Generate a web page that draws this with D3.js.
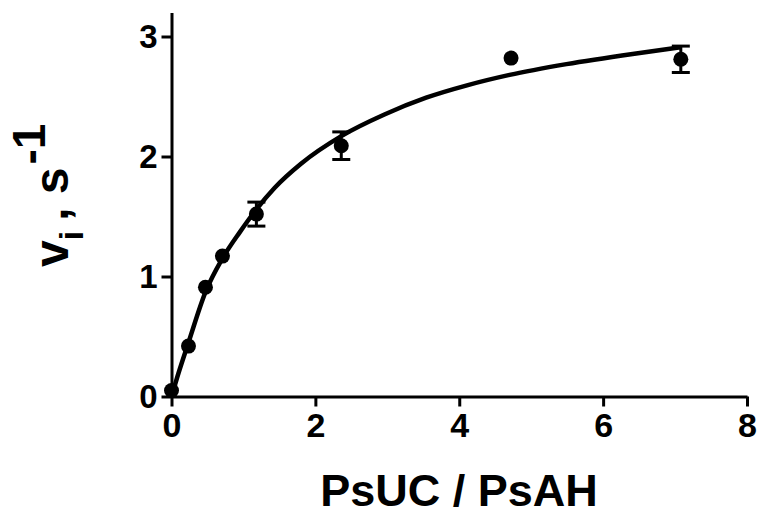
<!DOCTYPE html>
<meta charset="utf-8">
<style>
    body { margin: 0; background: #fff; }
    text { font-family: "Liberation Sans", Arial, sans-serif; font-weight: bold; }
</style>

<svg width="760" height="516"></svg>

<script src="https://cdnjs.cloudflare.com/ajax/libs/d3/7.8.5/d3.min.js"></script>
<script>

    // measured points (mean, sem)
    var ratio = [0, 0.236, 0.472, 0.708, 1.18, 2.36, 4.72, 7.08]
    var rate = [0.05, 0.42, 0.91, 1.17, 1.52, 2.09, 2.82, 2.81]
    var sem = [0, 0, 0, 0, 0.10, 0.115, 0, 0.11]

    // fitted curve
    var fitX = [0, 0.1, 0.236, 0.472, 0.708, 0.95, 1.18, 1.435, 1.8, 2.36, 2.96, 3.54, 4.12, 4.7, 5.49, 6.41, 7.08]
    var fitY = [0, 0.2, 0.45, 0.87, 1.15, 1.37, 1.56, 1.74, 1.94, 2.17, 2.35, 2.49, 2.595, 2.68, 2.77, 2.855, 2.91]

    var xTicks = [0, 2, 4, 6, 8]
    var yTicks = [0, 1, 2, 3]

    var svg = d3.select('svg')

    var x = d3.scaleLinear().domain([0, 8]).range([171.5, 747])
    var y = d3.scaleLinear().domain([0, 3.2]).range([396.5, 12.5])

    var points = ratio.map(function (d, i) {
        return { x: d, y: rate[i], e: sem[i] }
    })
    var fit = fitX.map(function (d, i) { return [d, fitY[i]] })

    // axes
    var xAxis = svg.append('g')
        .attr('transform', 'translate(0,' + y(0) + ')')
        .call(d3.axisBottom(x).tickValues(xTicks).tickFormat(d3.format('d'))
            .tickSize(10).tickSizeOuter(0).tickPadding(6))
    var yAxis = svg.append('g')
        .attr('transform', 'translate(' + x(0) + ',0)')
        .call(d3.axisLeft(y).tickValues(yTicks).tickFormat(d3.format('d'))
            .tickSize(10).tickSizeOuter(0).tickPadding(4))

    svg.selectAll('.domain').attr('stroke', '#000').attr('stroke-width', 3)
    svg.selectAll('.tick line').attr('stroke', '#000').attr('stroke-width', 3)
    xAxis.selectAll('.tick text')
        .attr('font-size', 34).attr('fill', '#000')
        .attr('font-family', '"Liberation Sans", Arial, sans-serif').attr('font-weight', 'bold')
    yAxis.selectAll('.tick text')
        .attr('font-size', 33).attr('fill', '#000')
        .attr('font-family', '"Liberation Sans", Arial, sans-serif').attr('font-weight', 'bold')

    // fit line
    var line = d3.line()
        .x(function (d) { return x(d[0]) })
        .y(function (d) { return y(d[1]) })
        .curve(d3.curveMonotoneX)

    svg.append('path')
        .datum(fit)
        .attr('d', line)
        .attr('fill', 'none')
        .attr('stroke', '#000')
        .attr('stroke-width', 4.5)

    // error bars
    var bars = svg.append('g').selectAll('g')
        .data(points.filter(function (d) { return d.e > 0 }))
        .enter().append('g')
        .attr('stroke', '#000')
        .attr('stroke-width', 3)

    bars.append('line')
        .attr('x1', function (d) { return x(d.x) })
        .attr('x2', function (d) { return x(d.x) })
        .attr('y1', function (d) { return y(d.y - d.e) })
        .attr('y2', function (d) { return y(d.y + d.e) })
    bars.append('line')
        .attr('x1', function (d) { return x(d.x) - 9 })
        .attr('x2', function (d) { return x(d.x) + 9 })
        .attr('y1', function (d) { return y(d.y + d.e) })
        .attr('y2', function (d) { return y(d.y + d.e) })
    bars.append('line')
        .attr('x1', function (d) { return x(d.x) - 9 })
        .attr('x2', function (d) { return x(d.x) + 9 })
        .attr('y1', function (d) { return y(d.y - d.e) })
        .attr('y2', function (d) { return y(d.y - d.e) })

    svg.append('g').selectAll('circle')
        .data(points)
        .enter().append('circle')
        .attr('cx', function (d) { return x(d.x) })
        .attr('cy', function (d) { return y(d.y) })
        .attr('r', 7.5)
        .attr('fill', '#000')

    // axis titles
    svg.append('text')
        .attr('x', 459)
        .attr('y', 506)
        .attr('text-anchor', 'middle')
        .attr('font-size', 45)
        .text('PsUC / PsAH')

    var yTitle = svg.append('text')
        .attr('transform', 'translate(68,267) rotate(-90)')
        .attr('font-size', 48)
    yTitle.append('tspan').text('v')
    yTitle.append('tspan').attr('font-size', 34).attr('dy', 15).text('i')
    yTitle.append('tspan').attr('dx', 10).attr('dy', -15).text(', s')
    yTitle.append('tspan').attr('font-size', 46).attr('dx', 3).attr('dy', -23).text('-1')

</script>
